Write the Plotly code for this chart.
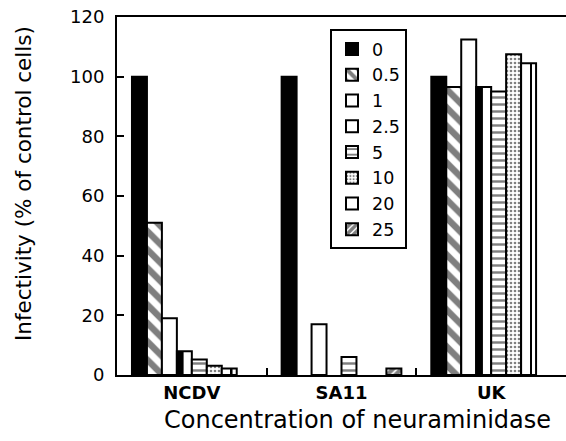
import plotly.graph_objects as go

viruses = ["NCDV", "SA11", "UK"]
concentrations = ["0", "0.5", "1", "2.5", "5", "10", "20", "25"]

inf_0 = [100, 100, 100]
inf_05 = [51, None, 96.5]
inf_1 = [19, 17, 112.5]
inf_25 = [8, None, 96.5]
inf_5 = [5.2, 6, 95]
inf_10 = [3.1, None, 107.5]
inf_20 = [2.2, None, 104.5]
inf_25c = [None, 2.2, None]

series = [inf_0, inf_05, inf_1, inf_25, inf_5, inf_10, inf_20, inf_25c]

FONT = "DejaVu Sans"
W, H = 566, 441
L, R, T, B = 117, 0, 17, 66
pw, ph = W - L - R, H - T - B

patterns = [
    dict(color="black", pattern=None),
    dict(color="white", pattern=dict(shape="\\", fgcolor="black", bgcolor="white", size=13, solidity=0.5)),
    dict(color="white", pattern=None),
    dict(color="white", pattern=None),
    dict(color="white", pattern=dict(shape="-", fgcolor="black", bgcolor="white", size=7, solidity=0.35)),
    dict(color="white", pattern=dict(shape=".", fgcolor="black", bgcolor="white", size=4, solidity=0.35)),
    dict(color="white", pattern=None),
    dict(color="white", pattern=dict(shape="/", fgcolor="black", bgcolor="white", size=6, solidity=0.7)),
]

fig = go.Figure()
for i, (name, vals, st) in enumerate(zip(concentrations, series, patterns)):
    marker = dict(color=st["color"], line=dict(color="black", width=2))
    if st["pattern"] is not None:
        marker["pattern"] = st["pattern"]
    fig.add_trace(go.Bar(name=name, x=viruses, y=vals, marker=marker,
                         offsetgroup=f"g{i}"))

# detail overlays: black left half for 2.5, thin inner line for 20
slot = 0.1
fig.add_trace(go.Bar(x=viruses, y=inf_25, offsetgroup="g3", showlegend=False,
                     offset=-0.4 + 3 * slot, width=slot * 0.45,
                     marker=dict(color="black", line=dict(width=0))))
fig.add_trace(go.Bar(x=viruses, y=inf_20, offsetgroup="g6", showlegend=False,
                     offset=-0.4 + 6 * slot + slot * 0.6, width=slot * 0.12,
                     marker=dict(color="black", line=dict(width=0))))

fig.update_layout(
    width=W, height=H,
    margin=dict(l=L, r=R, t=T, b=B, pad=0),
    paper_bgcolor="white", plot_bgcolor="white",
    barmode="group", bargap=0.2, bargroupgap=0,
    font=dict(family=FONT, color="black", size=18),
    showlegend=True,
    legend=dict(
        x=(330 - L) / pw, y=(375 - 29) / ph, xanchor="left", yanchor="top",
        bgcolor="white", bordercolor="black", borderwidth=2,
        font=dict(family=FONT, size=17.5, color="black"),
        traceorder="normal",
    ),
)
fig.update_xaxes(
    type="category", categoryorder="array", categoryarray=viruses,
    range=[-0.5, 2.5],
    showline=True, linecolor="black", linewidth=2, mirror=True,
    ticks="inside", tickson="boundaries", ticklen=7, tickwidth=2, tickcolor="black",
    tickfont=dict(family=FONT, size=18, weight="bold"),
    showgrid=False, zeroline=False,
)
fig.update_yaxes(
    range=[0, 120], dtick=20, tick0=0,
    showline=True, linecolor="black", linewidth=2,
    ticks="inside", ticklen=7, tickwidth=2, tickcolor="black",
    tickfont=dict(family=FONT, size=18), ticklabelstandoff=7,
    showgrid=False, zeroline=False,
)
fig.add_annotation(text="Infectivity (% of control cells)", xref="paper", yref="paper",
                   x=(23 - L) / pw, y=(375 - 184) / ph, xanchor="center", yanchor="middle",
                   textangle=-90, showarrow=False, font=dict(family=FONT, size=21.5))
fig.add_annotation(text="Concentration of neuraminidase", xref="paper", yref="paper",
                   x=(357 - L) / pw, y=(375 - 420) / ph, xanchor="center", yanchor="middle",
                   showarrow=False, font=dict(family=FONT, size=24))

fig.write_html("out.html", config={"displayModeBar": False},
               post_script="document.body.style.margin='0px';document.body.style.padding='0px';document.body.style.overflow='hidden';")
